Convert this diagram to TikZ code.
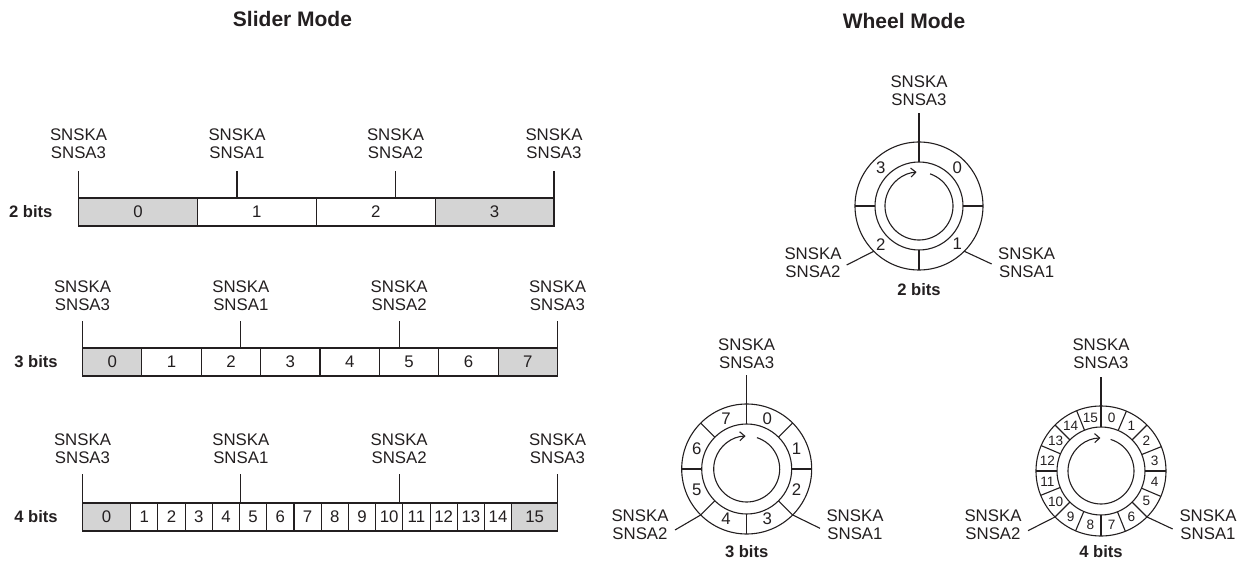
\documentclass[tikz,border=0pt]{standalone}
\usepackage{fontspec}
\setmainfont{Liberation Sans}
\usetikzlibrary{arrows.meta}
\definecolor{cellgray}{RGB}{212,212,212}
\definecolor{ink}{RGB}{35,31,32}
\begin{document}
\begin{tikzpicture}[x=0.5pt,y=0.5pt,line width=0.55pt,color=ink,
  lbl/.style={font=\fontsize{8.4}{9}\selectfont,align=center,inner sep=0},
  ttl/.style={font=\fontsize{10.5}{12}\selectfont\bfseries,inner sep=0},
  bitlbl/.style={font=\fontsize{8.3}{10}\selectfont\bfseries,inner sep=0},
  cell/.style={draw,rectangle,inner sep=0,outer sep=0,minimum height=14pt,font=\fontsize{8.4}{10}\selectfont},
  ring/.style={draw,circle,inner sep=0,outer sep=0},
  wnum/.style={font=\fontsize{8.4}{9}\selectfont,inner sep=0},
  wnums/.style={font=\fontsize{6.8}{7}\selectfont,inner sep=0},
  turn/.style={-{Straight Barb[length=2.5pt,width=4.5pt]}}]
\path[use as bounding box] (0,0) rectangle (1250,-567);

% titles
\node[ttl] (tslider) at (292.5,-18.5) {Slider Mode};
\node[ttl] (twheel) at (904,-21) {Wheel Mode};

% ---------- slider 2 bits ----------
\node[bitlbl] (b1) at (30.8,-212) {2 bits};
\foreach \i/\f in {0/cellgray,1/white,2/white,3/cellgray}
  \node[cell,fill=\f,minimum width={118.875*0.5pt}] (a\i) at ({78.5+118.875*(\i+0.5)},-212) {\i};
\foreach \k/\x/\s in {0/78.5/3,1/237/1,2/395.5/2,3/554/3}{
  \coordinate (p1b\k) at (\x,-198);
  \coordinate (p1t\k) at (\x,-171);
  \draw (p1b\k) -- (p1t\k);
  \node[lbl] (p1l\k) at (\x,-144) {SNSKA\\SNSA\s};
}

% ---------- slider 3 bits ----------
\node[bitlbl] (b2) at (36,-362) {3 bits};
\foreach \i/\f in {0/cellgray,1/white,2/white,3/white,4/white,5/white,6/white,7/cellgray}
  \node[cell,fill=\f,minimum width={59.375*0.5pt}] (c\i) at ({82.5+59.375*(\i+0.5)},-362) {\i};
\foreach \k/\x/\s in {0/82.5/3,1/240.8/1,2/399.2/2,3/557.5/3}{
  \coordinate (p2b\k) at (\x,-348);
  \coordinate (p2t\k) at (\x,-321);
  \draw (p2b\k) -- (p2t\k);
  \node[lbl] (p2l\k) at (\x,-295.5) {SNSKA\\SNSA\s};
}

% ---------- slider 4 bits ----------
\node[bitlbl] (b3) at (36,-517) {4 bits};
\node[cell,fill=cellgray,minimum width={48.2*0.5pt}] (d0) at (106.6,-517) {0};
\foreach \i in {1,...,14}
  \node[cell,fill=white,minimum width={27.214*0.5pt}] (d\i) at ({130.7+27.214*(\i-0.5)},-517) {\i};
\node[cell,fill=cellgray,minimum width={45.8*0.5pt}] (d15) at (534.6,-517) {15};
\foreach \k/\x/\s in {0/82.5/3,1/240.8/1,2/399.2/2,3/557.5/3}{
  \coordinate (p3b\k) at (\x,-503);
  \coordinate (p3t\k) at (\x,-474);
  \draw (p3b\k) -- (p3t\k);
  \node[lbl] (p3l\k) at (\x,-448.5) {SNSKA\\SNSA\s};
}

% ---------- wheel 2 bits ----------
\coordinate (w2c) at (919,-206);
\node[ring,minimum size=64pt] (w2o) at (w2c) {};
\node[ring,minimum size=44pt] (w2i) at (w2c) {};
\foreach \a in {0,180,270} \draw (w2i.\a) -- (w2o.\a);
\coordinate (w2t) at (919,-113);
\draw (w2i.90) -- (w2t);
\node[lbl] (w2lt) at (919,-91) {SNSKA\\SNSA3};
\draw[turn] ([shift={(71:17pt)}]w2c) arc[start angle=71,end angle=-266,radius=17pt];
\foreach \n/\a in {0/45,1/-45,2/-135,3/135}
  \node[wnum] (w2n\n) at ([shift={(\a:27pt)}]w2c) {\n};
\coordinate (w2a) at (846.7,-265);
\coordinate (w2b) at (991.7,-264);
\draw (w2o.225) -- (w2a);
\draw (w2o.315) -- (w2b);
\node[lbl] (w2ll) at (813,-263) {SNSKA\\SNSA2};
\node[lbl] (w2lr) at (1026.7,-263) {SNSKA\\SNSA1};
\node[bitlbl] (w2bits) at (919,-290) {2 bits};

% ---------- wheel 3 bits ----------
\coordinate (w3c) at (746.7,-469);
\node[ring,minimum size=65pt] (w3o) at (w3c) {};
\node[ring,minimum size=45pt] (w3i) at (w3c) {};
\foreach \a in {0,45,135,180,225,270,315} \draw (w3i.\a) -- (w3o.\a);
\coordinate (w3t) at (746.7,-375);
\draw (w3i.90) -- (w3t);
\node[lbl] (w3lt) at (746.7,-354) {SNSKA\\SNSA3};
\draw[turn] ([shift={(72:16.5pt)}]w3c) arc[start angle=72,end angle=-268,radius=16.5pt];
\foreach \n in {0,...,7}
  \node[wnum] (w3n\n) at ([shift={({67.5-45*\n}:27pt)}]w3c) {\n};
\coordinate (w3a) at (675,-530);
\coordinate (w3b) at (820,-528.3);
\draw (w3o.225) -- (w3a);
\draw (w3o.315) -- (w3b);
\node[lbl] (w3ll) at (640,-525) {SNSKA\\SNSA2};
\node[lbl] (w3lr) at (855,-525) {SNSKA\\SNSA1};
\node[bitlbl] (w3bits) at (746.7,-552) {3 bits};

% ---------- wheel 4 bits ----------
\coordinate (w4c) at (1101,-471);
\node[ring,minimum size=65pt] (w4o) at (w4c) {};
\node[ring,minimum size=44pt] (w4i) at (w4c) {};
\foreach \k in {0,1,2,3,5,6,7,8,9,10,11,12,13,14,15} \draw (w4i.{22.5*\k}) -- (w4o.{22.5*\k});
\coordinate (w4t) at (1101,-376.7);
\draw (w4i.90) -- (w4t);
\node[lbl] (w4lt) at (1101,-354) {SNSKA\\SNSA3};
\draw[turn] ([shift={(73:16.5pt)}]w4c) arc[start angle=73,end angle=-269,radius=16.5pt];
\foreach \n in {0,...,15}
  \node[wnums] (w4n\n) at ([shift={({78.75-22.5*\n}:27.3pt)}]w4c) {\n};
\coordinate (w4a) at (1028,-530.7);
\coordinate (w4b) at (1172.7,-529);
\draw (w4o.225) -- (w4a);
\draw (w4o.315) -- (w4b);
\node[lbl] (w4ll) at (993,-525) {SNSKA\\SNSA2};
\node[lbl] (w4lr) at (1208,-525) {SNSKA\\SNSA1};
\node[bitlbl] (w4bits) at (1101,-552) {4 bits};
\end{tikzpicture}
\end{document}
